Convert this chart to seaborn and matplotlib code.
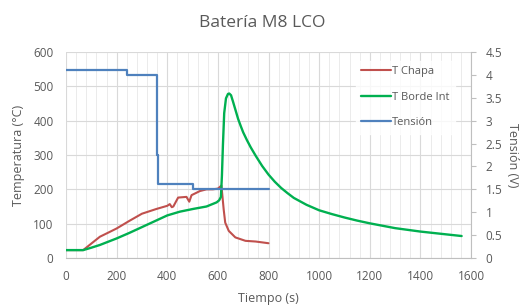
import matplotlib
matplotlib.use("Agg")
import matplotlib.pyplot as plt
from matplotlib.ticker import MultipleLocator
import seaborn as sns
import pandas as pd

# Data
t_chapa_time = [0, 68, 100, 134, 170, 200, 250, 300, 358, 400, 410, 418, 424, 443, 476, 487,
                496, 529, 555, 580, 600, 614, 618, 623, 629, 643, 669, 709, 749, 780, 800]
t_chapa_temp = [23, 23, 42, 62, 75, 86, 108, 129, 143, 152, 157, 148, 150, 176, 178, 164,
                183, 195, 200, 200, 202, 211, 180, 141, 103, 79, 60, 50, 48, 45, 43]

t_borde_time = [0, 68, 100, 134, 200, 250, 300, 350, 400, 450, 503, 555, 595, 605, 612, 616,
                620, 625, 632, 640, 645, 652, 660, 670, 680, 690, 700, 715, 730, 750, 775,
                800, 825, 850, 875, 900, 950, 1000, 1050, 1100, 1150, 1200, 1300, 1400,
                1500, 1563]
t_borde_temp = [23, 23, 30, 38, 57, 73, 90, 107, 124, 135, 143, 150, 162, 168, 178, 240,
                330, 422, 465, 478, 479, 474, 455, 430, 405, 385, 366, 343, 322, 297, 268,
                243, 222, 204, 189, 175, 155, 139, 128, 118, 109, 101, 87, 77,
                69, 64]

tension_time = [0, 240, 361, 365, 500, 800]
tension_volt = [4.1, 4.0, 2.25, 1.62, 1.5, 1.5]

TEXT = "#595959"
RED = "#C0504D"
GREEN = "#00B050"
BLUE = "#4F81BD"
AXIS = "#BFBFBF"

sns.set_theme(style="white")
plt.rcParams['font.family'] = ['Open Sans', 'DejaVu Sans']

fig = plt.figure(figsize=(5.25, 3.06), dpi=100)
ax = fig.add_axes([66 / 525, 48 / 306, 405 / 525, 206 / 306])
ax2 = ax.twinx()

chapa = pd.DataFrame({'t': t_chapa_time, 'T': t_chapa_temp})
borde = pd.DataFrame({'t': t_borde_time, 'T': t_borde_temp})
tens = pd.DataFrame({'t': tension_time, 'V': tension_volt})

sns.lineplot(data=chapa, x='t', y='T', ax=ax, color=RED, linewidth=1.5,
             estimator=None, sort=False, label='T Chapa', legend=False)
sns.lineplot(data=borde, x='t', y='T', ax=ax, color=GREEN, linewidth=1.7,
             estimator=None, sort=False, label='T Borde Int', legend=False)
sns.lineplot(data=tens, x='t', y='V', ax=ax2, color=BLUE, linewidth=1.6,
             estimator=None, sort=False, drawstyle='steps-post', label='Tensión', legend=False)

ax.set_xlim(0, 1600)
ax.set_ylim(0, 600)
ax2.set_ylim(0, 4.5)
ax.xaxis.set_major_locator(MultipleLocator(200))
ax.xaxis.set_minor_locator(MultipleLocator(40))
ax.yaxis.set_major_locator(MultipleLocator(100))
ax2.yaxis.set_major_locator(MultipleLocator(0.5))
ax2.yaxis.set_major_formatter(plt.FuncFormatter(lambda v, p: f"{v:g}"))

ax.grid(True, which='major', axis='both', color='#D9D9D9', linewidth=0.8)
ax.grid(True, which='minor', axis='x', color='#E8E8E8', linewidth=0.6)
ax.set_axisbelow(True)

for a in (ax, ax2):
    for s in a.spines.values():
        s.set_visible(False)
ax.spines['bottom'].set_visible(True)
ax.spines['bottom'].set_color(AXIS)
ax.spines['bottom'].set_linewidth(0.8)
ax2.spines['right'].set_visible(True)
ax2.spines['right'].set_color(AXIS)
ax2.spines['right'].set_linewidth(0.8)

ax.tick_params(axis='x', which='both', length=0, labelsize=8.5, labelcolor=TEXT, pad=9)
ax.tick_params(axis='y', which='both', length=0, labelsize=8.5, labelcolor=TEXT, pad=9)
ax2.tick_params(axis='y', length=3.5, width=0.8, color=AXIS, labelsize=8.5,
                labelcolor=TEXT, pad=7, direction='out')

ax.set_xlabel('Tiempo (s)', fontsize=9, color=TEXT, labelpad=6)
ax.set_ylabel('Temperatura (°C)', fontsize=9, color=TEXT, labelpad=6)
ax2.set_ylabel('Tensión (V)', fontsize=9, color=TEXT, rotation=270, labelpad=12)

fig.suptitle('Batería M8 LCO', fontsize=12.5, color=TEXT, y=0.95)

h1, l1 = ax.get_legend_handles_labels()
h2, l2 = ax2.get_legend_handles_labels()
leg = ax2.legend(h1 + h2, l1 + l2, loc='upper right', bbox_to_anchor=(0.975, 0.985),
                 frameon=True, fontsize=8, handlelength=2.7, handletextpad=0.1,
                 labelspacing=1.3, borderpad=0.5)
leg.get_frame().set_facecolor('white')
leg.get_frame().set_edgecolor('white')
for txt in leg.get_texts():
    txt.set_color(TEXT)

fig.savefig('out.png', dpi=100)
